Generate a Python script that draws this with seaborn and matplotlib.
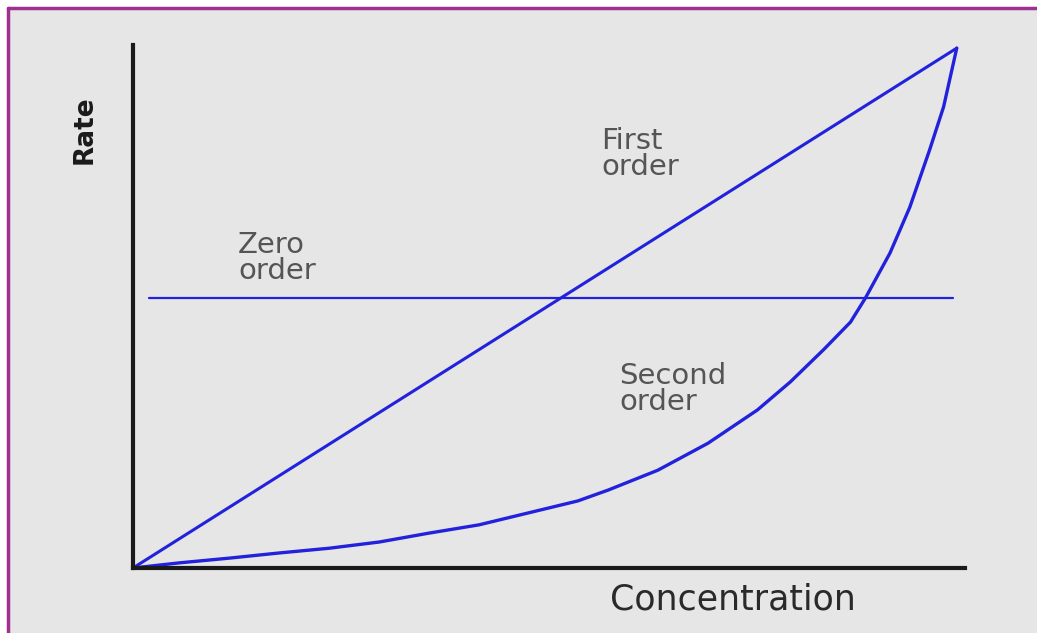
import numpy as np
import pandas as pd
import seaborn as sns
import matplotlib.pyplot as plt
from matplotlib.patches import Rectangle
from matplotlib.lines import Line2D

# values (concentration 0-10, rate 0-10)
zero_conc = [0.2, 9.95]
zero_rate = [5.2, 5.2]

first_conc = [0.0, 10.0]
first_rate = [0.0, 10.0]

second_conc = [0.0, 0.57, 1.17, 1.78, 2.38, 2.99, 3.59, 4.20, 4.80, 5.40, 5.77,
               6.37, 6.98, 7.58, 7.98, 8.39, 8.71, 8.89, 9.19, 9.43, 9.67, 9.84, 10.0]
second_rate = [0.0, 0.10, 0.19, 0.29, 0.38, 0.50, 0.67, 0.83, 1.06, 1.29, 1.50,
               1.88, 2.40, 3.04, 3.58, 4.21, 4.73, 5.19, 6.06, 6.94, 8.04, 8.87, 10.0]

blue = "#2222dd"

sns.set_theme(style="white")
plt.rcParams['font.family'] = ['DejaVu Sans']

W, H = 1037, 633
fig = plt.figure(figsize=(W / 100, H / 100), dpi=100, facecolor="white")

# grey panel with purple frame on top and left
fig.add_artist(Rectangle((8 / W, 0), 1, 1 - 8 / H, transform=fig.transFigure,
                         facecolor="#e6e6e6", edgecolor="none", zorder=0))
fig.add_artist(Line2D([8 / W, 1], [1 - 8 / H, 1 - 8 / H], transform=fig.transFigure,
                      color="#a0308f", lw=2.5))
fig.add_artist(Line2D([8 / W, 8 / W], [0, 1 - 8 / H], transform=fig.transFigure,
                      color="#a0308f", lw=2.5))

ax = fig.add_axes([133 / W, 65 / H, (965 - 133) / W, (568 - 45) / H])
ax.set_facecolor("none")

sns.lineplot(x=zero_conc, y=zero_rate, ax=ax, color=blue, lw=1.6)
sns.lineplot(x=first_conc, y=first_rate, ax=ax, color=blue, lw=2.2)
sns.lineplot(x=second_conc, y=second_rate, ax=ax, color=blue, lw=2.4,
             solid_joinstyle="round")

ax.set_xlim(0, 10.1)
ax.set_ylim(0, 10.06)
ax.set_xticks([])
ax.set_yticks([])
for side in ["top", "right"]:
    ax.spines[side].set_visible(False)
for side in ["left", "bottom"]:
    ax.spines[side].set_color("#1a1a1a")
    ax.spines[side].set_linewidth(3)

lab = dict(fontsize=21, color="#555555", va="top", ha="left", linespacing=0.92)
fig.text(238 / W, 1 - 231 / H, "Zero\norder", **lab)
fig.text(601 / W, 1 - 127 / H, "First\norder", **lab)
fig.text(619 / W, 1 - 362 / H, "Second\norder", **lab)

fig.text(610 / W, 1 - 600 / H, "Concentration", fontsize=25, color="#2a2a2a",
         va="center", ha="left")
fig.text(85 / W, 1 - 130 / H, "Rate", fontsize=19, fontweight="bold", color="#1a1a1a",
         va="center", ha="center", rotation=90)

fig.savefig("out.png", dpi=100, facecolor=fig.get_facecolor())
